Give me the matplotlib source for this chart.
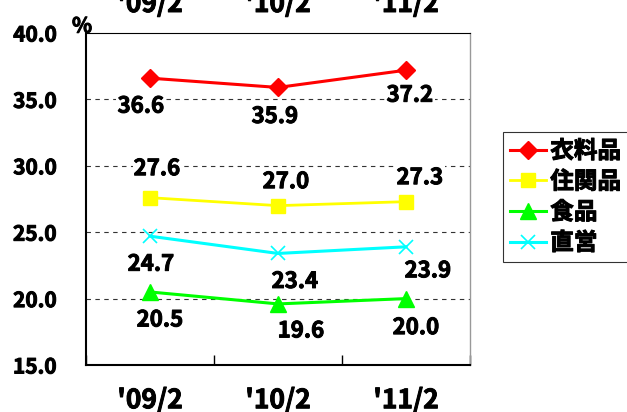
import matplotlib
matplotlib.use("Agg")
import matplotlib.pyplot as plt
import matplotlib.patheffects as pe
import numpy as np

plt.rcParams['font.family'] = ['Noto Sans CJK JP', 'DejaVu Sans']
plt.rcParams['font.weight'] = 'bold'

periods = ["'09/2", "'10/2", "'11/2"]
series_names = ['衣料品', '住関品', '食品', '直営']
clothing = [36.6, 35.9, 37.2]
household = [27.6, 27.0, 27.3]
food = [20.5, 19.6, 20.0]
direct = [24.7, 23.4, 23.9]
yticks = [15.0, 20.0, 25.0, 30.0, 35.0, 40.0]

styles = [
    dict(color='#FF0000', marker='D', ms=9, lw=2.2),
    dict(color='#FFFF00', marker='s', ms=10, lw=2.0),
    dict(color='#00FF00', marker='^', ms=11, lw=2.2),
    dict(color='#00FFFF', marker='x', ms=10, lw=2.2, mew=1.2),
]
# label offsets in pixels from each marker
offsets = [
    [(-9, -28), (-3, -29), (4, -25)],
    [(7, 29), (8, 24), (14, 24)],
    [(10, -28), (23, -27), (10, -29)],
    [(1, -28), (17, -28), (22, -24)],
]
thick = [pe.withStroke(linewidth=0.7, foreground='black')]

fig = plt.figure(figsize=(6.27, 4.12), dpi=100)
ax = fig.add_axes([86/627, 47/412, 384/627, 332/412])
x = np.arange(len(periods))

values = [clothing, household, food, direct]
handles = []
for vals, st, offs in zip(values, styles, offsets):
    h, = ax.plot(x, vals, **st, zorder=3)
    handles.append(h)
    for xi, v, (dx, dy) in zip(x, vals, offs):
        ax.annotate(f'{v:.1f}', (xi, v), xytext=(dx, dy), textcoords='offset pixels',
                    ha='center', va='center', fontsize=16, path_effects=thick,
                    bbox=dict(boxstyle='square,pad=0.05', fc='white', ec='none'),
                    zorder=2)

ax.set_xlim(-0.5, 2.5)
ax.set_ylim(15, 40)
for g in [20, 25, 30, 35]:
    ax.axhline(g, color='#333333', lw=0.8, ls=(0, (4, 4)), zorder=1)

ax.set_yticks(yticks)
ax.set_yticklabels([f'{t:.1f}' for t in yticks], fontsize=15, path_effects=thick)
ax.tick_params(axis='y', length=0, pad=21)
ax.set_xticks(x)
ax.set_xticklabels(periods, fontsize=19, path_effects=thick)
ax.set_xticks([-0.5, 0.5, 1.5, 2.5], minor=True)
ax.tick_params(axis='x', which='major', length=0, pad=16)
ax.tick_params(axis='x', which='minor', direction='in', length=7, width=1)

ax.spines['left'].set_linewidth(1.5)
ax.spines['bottom'].set_linewidth(1.5)
ax.spines['top'].set_linewidth(0.8)
ax.spines['right'].set_color('#999999')
ax.spines['right'].set_linewidth(1.0)

fig.text(72/627, 1 - 26/412, '%', fontsize=15, va='center', path_effects=thick)

# clipped duplicate labels at the very top
for xi, lab in zip(x, periods):
    px = ax.transData.transform((xi, 15))[0] / 627
    fig.text(px, 1 - 12/412, lab, fontsize=19, ha='center', va='baseline',
             path_effects=thick)

leg = fig.legend(handles, series_names, loc='upper left',
                 bbox_to_anchor=(503/627, 1 - 132/412), frameon=True, fancybox=False,
                 prop=dict(size=17, weight='bold'), handlelength=1.5, handletextpad=0.2,
                 labelspacing=0.28, borderpad=0.3, borderaxespad=0)
leg.get_frame().set_edgecolor('black')
leg.get_frame().set_linewidth(0.8)
for t in leg.get_texts():
    t.set_path_effects(thick)

fig.savefig('out.png', dpi=100)
